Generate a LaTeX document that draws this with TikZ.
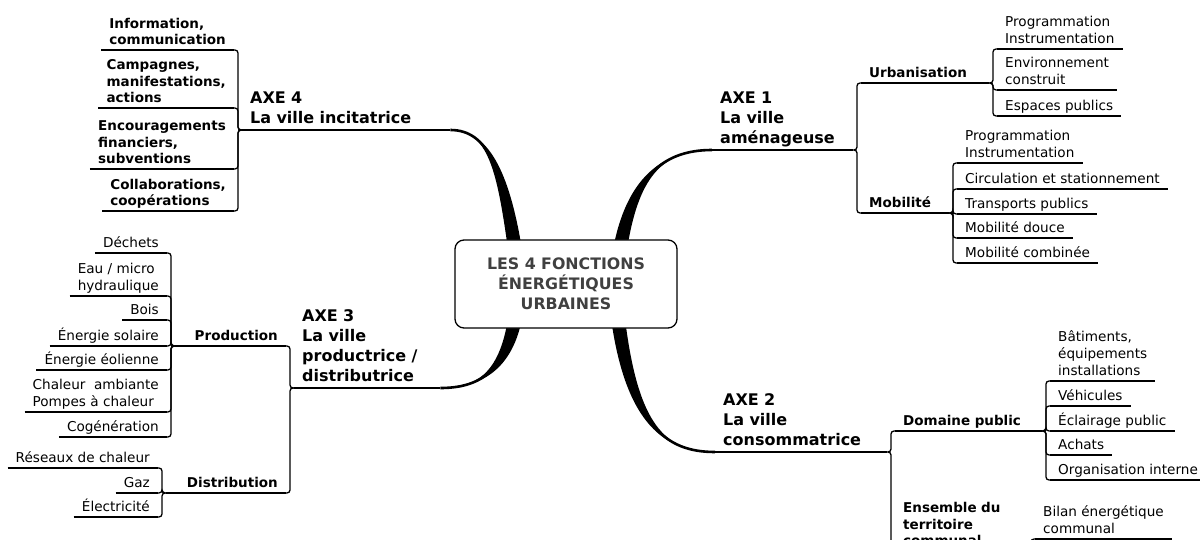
\documentclass[tikz,border=0pt]{standalone}
\usepackage{fontspec}
\setmainfont{DejaVu Sans}
\usetikzlibrary{calc,backgrounds}

\newcommand{\leaffont}{\fontsize{13.6}{17}\selectfont}
\newcommand{\subfont}{\bfseries\fontsize{13.5}{16.5}\selectfont}
\newcommand{\axefont}{\bfseries\fontsize{16}{20}\selectfont}

\tikzset{
  topic/.style={inner xsep=8pt, inner ysep=0pt, align=left, execute at end node=\strut},
  leaf/.style={topic, font=\leaffont},
  sub/.style={topic, font=\subfont},
  axe/.style={topic, font=\axefont},
  centre/.style={draw, line width=1.3pt, rounded corners=9pt, fill=white,
    minimum width=222pt, minimum height=88pt, align=center, text=black!75,
    font=\bfseries\fontsize{15.8}{20}\selectfont},
  link/.style={line width=1.3pt, rounded corners=3pt},
  trunk/.style={fill=black},
}

% thick tapered branch from the centre to an axe
\newcommand{\axetrunk}[4]{%
  \fill[trunk] ($(#1)+(-7,0)$) .. controls ($(#2)+(-6,0)$) and (#3) .. (#4)
    .. controls (#3) and ($(#2)+(6,0)$) .. ($(#1)+(7,0)$) -- cycle;
  \draw[line width=2.6pt] (#1) .. controls (#2) and (#3) .. (#4);}

\begin{document}
\begin{tikzpicture}[x=1pt,y=-1pt]
\useasboundingbox (0,0) rectangle (1200,540);

\node[centre] (centre) at (566,284) {LES 4 FONCTIONS\\ÉNERGÉTIQUES\\URBAINES};

% axe 1
\node[axe, anchor=south west, text width=125pt] (axe1) at (712,150) {AXE 1\\La ville\\aménageuse};
\node[sub, anchor=south west, text width=112pt] (urb) at (861,83) {Urbanisation};
\node[sub, anchor=south west, text width=72pt] (mob) at (861,213) {Mobilité};
\node[leaf, anchor=south west] (prog1) at (997,49) {Programmation\\Instrumentation};
\node[leaf, anchor=south west] (env) at (997,90) {Environnement\\construit};
\node[leaf, anchor=south west] (esp) at (997,116) {Espaces publics};
\node[leaf, anchor=south west] (prog2) at (957,163) {Programmation\\Instrumentation};
\node[leaf, anchor=south west] (circ) at (957,189) {Circulation et stationnement};
\node[leaf, anchor=south west] (trans) at (957,214) {Transports publics};
\node[leaf, anchor=south west] (douce) at (957,238) {Mobilité douce};
\node[leaf, anchor=south west] (comb) at (957,263) {Mobilité combinée};

% axe 2
\node[axe, anchor=south west, text width=156pt] (axe2) at (715,452) {AXE 2\\La ville\\consommatrice};
\node[sub, anchor=south west, text width=131pt] (dom) at (895,431) {Domaine public};
\node[sub, anchor=south west, text width=116pt] (ens) at (895,551) {Ensemble du\\territoire\\communal};
\node[leaf, anchor=south west] (bat) at (1050,381) {Bâtiments,\\équipements\\installations};
\node[leaf, anchor=south west] (veh) at (1050,406) {Véhicules};
\node[leaf, anchor=south west] (ecl) at (1050,431) {Éclairage public};
\node[leaf, anchor=south west] (ach) at (1050,455) {Achats};
\node[leaf, anchor=south west] (org) at (1050,480) {Organisation interne};
\node[leaf, anchor=south west] (bilan) at (1035,539) {Bilan énergétique\\communal};

% axe 3
\node[axe, anchor=south west, text width=130pt] (axe3) at (294,388) {AXE 3\\La ville\\productrice /\\distributrice};
\node[sub, anchor=south east, text width=95pt, align=right] (prod) at (286,346) {Production};
\node[sub, anchor=south east, text width=104pt, align=right] (dist) at (286,493) {Distribution};
\node[leaf, anchor=south east] (dech) at (167,253) {Déchets};
\node[leaf, anchor=south east] (eau) at (167,296) {Eau / micro\\hydraulique};
\node[leaf, anchor=south east] (bois) at (167,320) {Bois};
\node[leaf, anchor=south east] (sol) at (167,346) {Énergie solaire};
\node[leaf, anchor=south east] (eol) at (167,370) {Énergie éolienne};
\node[leaf, anchor=south east] (chal) at (167,412) {Chaleur~~ambiante\\Pompes à chaleur};
\node[leaf, anchor=south east] (cog) at (167,437) {Cogénération};
\node[leaf, anchor=south east] (res) at (158,468) {Réseaux de chaleur};
\node[leaf, anchor=south east] (gaz) at (158,493) {Gaz};
\node[leaf, anchor=south east] (elec) at (158,517) {Électricité};

% axe 4
\node[axe, anchor=south west, text width=192pt] (axe4) at (242,130) {AXE 4\\La ville incitatrice};
\node[sub, anchor=south east] (info) at (234,50) {Information,\\communication};
\node[sub, anchor=south east] (camp) at (234,108) {Campagnes,\\manifestations,\\actions};
\node[sub, anchor=south east] (enc) at (234,169) {Encouragements\\financiers,\\subventions};
\node[sub, anchor=south east] (coll) at (234,211) {Collaborations,\\coopérations};

% underlines
\foreach \n in {axe1,urb,mob,prog1,env,esp,prog2,circ,trans,douce,comb,
    axe2,dom,ens,bat,veh,ecl,ach,org,bilan,
    axe3,prod,dist,dech,eau,bois,sol,eol,chal,cog,res,gaz,elec,
    axe4,info,camp,enc,coll}
  \draw[link] (\n.south west) -- (\n.south east);

% brackets, right side
\foreach \p/\c in {axe1/urb,axe1/mob,urb/prog1,urb/env,urb/esp,
    mob/prog2,mob/circ,mob/trans,mob/douce,mob/comb,
    axe2/dom,axe2/ens,dom/bat,dom/veh,dom/ecl,dom/ach,dom/org,ens/bilan}
  \draw[link] (\p.south east) -| ($(\c.south west)+(-4,0)$) -- (\c.south west);

% brackets, left side
\foreach \p/\c in {axe4/info,axe4/camp,axe4/enc,axe4/coll,axe3/prod,axe3/dist,
    prod/dech,prod/eau,prod/bois,prod/sol,prod/eol,prod/chal,prod/cog,
    dist/res,dist/gaz,dist/elec}
  \draw[link] (\p.south west) -| ($(\c.south east)+(4,0)$) -- (\c.south east);

% trunks
\begin{scope}[on background layer]
  \coordinate (r1) at ($(centre.north)+(54,10)$);
  \coordinate (r4) at ($(centre.north)+(-51,10)$);
  \coordinate (r3) at ($(centre.south)+(-51,-10)$);
  \coordinate (r2) at ($(centre.south)+(52,-10)$);
  \axetrunk{r1}{632,180}{660,150}{axe1.south west}
  \axetrunk{r4}{503,170}{488,130}{axe4.south east}
  \axetrunk{r3}{505,375}{475,388}{axe3.south east}
  \axetrunk{r2}{632,425}{665,452}{axe2.south west}
\end{scope}
\end{tikzpicture}
\end{document}
